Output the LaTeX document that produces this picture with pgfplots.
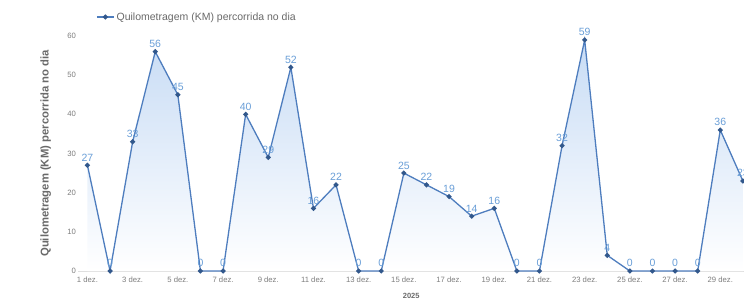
\documentclass[border=0pt]{standalone}
\usepackage{fontspec}
\setmainfont{Liberation Sans}
\usepackage{pgfplots}
\usepackage{pgfplotstable}
\pgfplotsset{compat=1.18}
\definecolor{lineblue}{RGB}{78,125,190}
\definecolor{markblue}{RGB}{50,88,140}
\definecolor{lblblue}{RGB}{105,158,215}
\definecolor{fillblue}{RGB}{200,220,245}
\definecolor{ticklbl}{RGB}{125,125,125}
\definecolor{titlegray}{RGB}{105,105,105}
\pgfplotstableread{
day km
1 27
2 0
3 33
4 56
5 45
6 0
7 0
8 40
9 29
10 52
11 16
12 22
13 0
14 0
15 25
16 22
17 19
18 14
19 16
20 0
21 0
22 32
23 59
24 4
25 0
26 0
27 0
28 0
29 36
30 23
}\kmdata
\begin{document}
\begin{tikzpicture}
\begin{axis}[
  at={(78.4pt,30pt)}, anchor=south west,
  scale only axis, width=665.6pt, height=235pt,
  xmin=0.6, xmax=30.05, ymin=0, ymax=60,
  axis x line*=bottom, axis y line*=left,
  x axis line style={draw=gray!25, line width=0.6pt},
  y axis line style={draw=none},
  major tick length=0pt,
  xtick={1,3,...,29},
  xticklabels={1 dez.,3 dez.,5 dez.,7 dez.,9 dez.,11 dez.,13 dez.,15 dez.,17 dez.,19 dez.,21 dez.,23 dez.,25 dez.,27 dez.,29 dez.},
  ytick={0,10,...,60},
  /pgf/number format/assume math mode=true,
  tick label style={font=\fontsize{7.7}{9}\selectfont, text=ticklbl},
  xticklabel style={yshift=-2pt},
  yticklabel style={xshift=1pt},
  xlabel={2025},
  xlabel style={font=\bfseries\fontsize{7.5}{9}\selectfont, text=titlegray, at={(axis description cs:0.5,-0.106)}, anchor=center},
  ylabel={Quilometragem (KM) percorrida no dia},
  ylabel style={font=\bfseries\fontsize{11.3}{13}\selectfont, text=titlegray, at={(axis description cs:-0.049,0.5)}, anchor=center},
  legend style={at={(axis description cs:0.022,1.081)}, anchor=west, draw=none, fill=none, font=\fontsize{10.5}{12}\selectfont, text=titlegray},
  clip=false,
]
\addplot[draw=none, top color=fillblue, bottom color=white, forget plot] table[x=day,y=km] {\kmdata} \closedcycle;
\addplot[lineblue, line width=1.3pt, mark=*, mark size=1.8pt,
  mark options={fill=markblue, draw=markblue},
  nodes near coords,
  nodes near coords style={font=\fontsize{10.5}{12}\selectfont, text=lblblue, anchor=south, yshift=0pt}]
  table[x=day,y=km] {\kmdata};
\addlegendentry{Quilometragem (KM) percorrida no dia}
\end{axis}
\pgfresetboundingbox
\path[use as bounding box] (0,0) rectangle (744pt,301pt);
\end{tikzpicture}
\end{document}
